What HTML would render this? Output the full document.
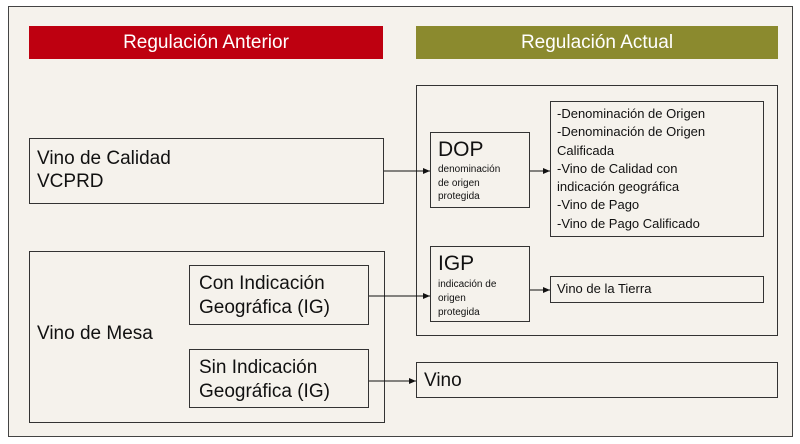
<!DOCTYPE html>
<html><head><meta charset="utf-8"><style>
body{margin:0;width:800px;height:444px;background:#fff;font-family:"Liberation Sans",sans-serif;overflow:hidden}
.a{position:absolute;box-sizing:border-box}
.b{border:1px solid #333;background:#f5f2ec}
.t{position:absolute;color:#111;line-height:1.2}
</style></head><body>
<div class="a b" style="left:8px;top:6px;width:785px;height:431px;border-color:#444"></div>
<div class="a" style="left:29px;top:26px;width:354px;height:33px;background:#be0010;color:#fff;font-size:19px;text-align:center;line-height:33px">Regulación Anterior</div>
<div class="a" style="left:416px;top:26px;width:362px;height:33px;background:#8b8a2e;color:#fff;font-size:19px;text-align:center;line-height:33px">Regulación Actual</div>

<div class="a b" style="left:29px;top:138px;width:355px;height:66px"></div>
<div class="t" style="left:37px;top:148px;font-size:19px">Vino de Calidad<br>VCPRD</div>

<div class="a b" style="left:29px;top:251px;width:356px;height:172px"></div>
<div class="t" style="left:37px;top:323px;font-size:19px">Vino de Mesa</div>
<div class="a b" style="left:189px;top:265px;width:180px;height:60px"></div>
<div class="t" style="left:199px;top:272px;font-size:19px;line-height:24px">Con Indicación<br>Geográfica (IG)</div>
<div class="a b" style="left:189px;top:349px;width:180px;height:59px"></div>
<div class="t" style="left:199px;top:356px;font-size:19px;line-height:24px">Sin Indicación<br>Geográfica (IG)</div>

<div class="a b" style="left:416px;top:85px;width:362px;height:251px"></div>
<div class="a b" style="left:430px;top:132px;width:100px;height:76px"></div>
<div class="t" style="left:438px;top:137px;font-size:21px">DOP</div>
<div class="t" style="left:438px;top:163px;font-size:10px;line-height:13.5px">denominación<br>de origen<br>protegida</div>
<div class="a b" style="left:550px;top:101px;width:214px;height:136px"></div>
<div class="t" style="left:557px;top:105px;font-size:13px;line-height:18.3px">-Denominación de Origen<br>-Denominación de Origen<br>Calificada<br>-Vino de Calidad con<br>indicación geográfica<br>-Vino de Pago<br>-Vino de Pago Calificado</div>

<div class="a b" style="left:430px;top:246px;width:100px;height:76px"></div>
<div class="t" style="left:438px;top:251px;font-size:21px">IGP</div>
<div class="t" style="left:438px;top:278px;font-size:10px;line-height:14px">indicación de<br>origen<br>protegida</div>
<div class="a b" style="left:550px;top:276px;width:214px;height:27px"></div>
<div class="t" style="left:557px;top:281px;font-size:13px">Vino de la Tierra</div>

<div class="a b" style="left:416px;top:362px;width:362px;height:36px"></div>
<div class="t" style="left:424px;top:370px;font-size:19px">Vino</div>

<svg class="a" style="left:0;top:0" width="800" height="444">
<defs><marker id="m" markerWidth="8" markerHeight="8" refX="7" refY="4" orient="auto" markerUnits="userSpaceOnUse"><path d="M0,1 L7,4 L0,7z" fill="#111"/></marker></defs>
<g stroke="#111" stroke-width="1" marker-end="url(#m)">
<line x1="384" y1="171" x2="430" y2="171"/>
<line x1="530" y1="171" x2="550" y2="171"/>
<line x1="369" y1="296" x2="430" y2="296"/>
<line x1="530" y1="290" x2="550" y2="290"/>
<line x1="369" y1="381" x2="416" y2="381"/>
</g></svg>
</body></html>
